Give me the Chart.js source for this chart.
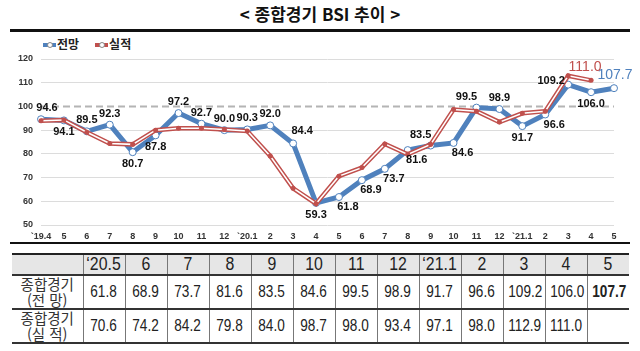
<!DOCTYPE html>
<html lang="ko">
<head>
<meta charset="utf-8">
<title>종합경기 BSI 추이</title>
<script src="https://cdn.jsdelivr.net/npm/chart.js@4.4.1/dist/chart.umd.min.js"></script>
<style>
  html, body { margin:0; padding:0; background:#fff; }
  #page { position:relative; width:640px; height:351px; overflow:hidden; font-family:"Noto Sans CJK KR", sans-serif; }
  #titre { position:absolute; left:0; top:3px; width:640px; text-align:center; font-weight:bold; font-size:17px; line-height:22px; color:#111; }
  #trait-haut { position:absolute; left:10px; top:29px; width:620px; height:3px; background:#111; }
  #legende { position:absolute; left:43px; top:35px; font-weight:bold; font-size:12px; line-height:18px; color:#222; white-space:nowrap; }
  #legende .item { display:inline-block; margin-right:16px; }
  #legende .icone { display:inline-block; position:relative; width:13px; height:4px; vertical-align:middle; margin-right:1px; top:-1px; }
  #legende .icone::after { content:''; position:absolute; left:4px; top:-1px; width:4px; height:4px; border-radius:50%; background:#fff; border:1px solid #888; }
  #zone { position:absolute; left:0; top:32px; width:640px; height:210px; }
  #trait-bas { position:absolute; left:10px; top:242px; width:620px; height:2px; background:#111; }
  #tableau { position:absolute; left:12px; top:253px; border-collapse:collapse; table-layout:fixed; width:617px; }
  #tableau td { border-left:1px solid #777; padding:0; text-align:center; white-space:nowrap; overflow:hidden;
                font-family:"Liberation Sans",sans-serif; font-size:17px; color:#222; }
  #tableau td span { display:inline-block; transform:scaleX(0.8); }
  #tableau td:first-child { border-left:none; }
  #tableau tr { border-bottom:2px solid #333; }
  #tableau tr.entete { border-top:2px solid #222; background:#e6e6e6; height:21px; }
  #tableau tr.entete td { font-size:18px; line-height:19px; }
  #tableau tr.entete td span { transform:scaleX(0.88); }
  #tableau tr.ligne { height:34px; }
  #tableau td.libelle { font-family:"Noto Sans CJK KR",sans-serif; font-size:14.5px; line-height:16px; color:#333; overflow:visible; }
  #tableau td.dernier { font-weight:bold; }
</style>
</head>
<body>
<div id="page">
  <div id="titre">&lt; 종합경기 BSI 추이 &gt;</div>
  <div id="trait-haut"></div>
  <div id="legende"></div>
  <div id="zone"><canvas id="graphique-bsi" width="640" height="210"></canvas></div>
  <div id="trait-bas"></div>
  <table id="tableau"></table>
</div>
<script>
/** Les mois de l'axe des abscisses ('19.4 -> '21.5) */
const mois = ['`19.4','5','6','7','8','9','10','11','12','`20.1','2','3','4','5','6','7','8','9','10','11','12','`21.1','2','3','4','5'];

/** Noms des séries */
const nomsSeries = ['전망', '실적'];

/** 종합경기 전망 */
const perspectives = [94.6, 94.1, 89.5, 92.3, 80.7, 87.8, 97.2, 92.7, 90.0, 90.3, 92.0, 84.4, 59.3,
  61.8, 68.9, 73.7, 81.6, 83.5, 84.6, 99.5, 98.9, 91.7, 96.6, 109.2, 106.0, 107.7];

/** 종합경기 실적 (pas encore de valeur pour '21.5) */
const realisations = [94.0, 94.3, 89.1, 84.4, 84.0, 90.0, 90.8, 90.8, 90.3, 89.6, 79.1, 65.5, 59.0,
  70.6, 74.2, 84.2, 79.8, 84.0, 98.7, 98.0, 93.4, 97.1, 98.0, 112.9, 111.0];

/** Graduations de l'axe des ordonnées */
const graduations = [50, 60, 70, 80, 90, 100, 110, 120];

/** En-têtes du tableau ('20.5 -> '21.5) */
const moisTableau = ['‘20.5','6','7','8','9','10','11','12','‘21.1','2','3','4','5'];
const debutTableau = 13;

/** Place des étiquettes de la série 전망 */
const placement = ['nr','s','n','n','s','s','n','n','n','n','n','ne','s',
  'se','se','se','se','nw','se','nw','n','s','se','w','s','n'];

const bleu = '#4f81bd';
const rouge = '#c0504d';

/** On construit la légende */
const legende = document.getElementById('legende');
[bleu, rouge].forEach((couleur, i) => {
  legende.insertAdjacentHTML('beforeend',
    `<span class="item"><span class="icone" style="background:${couleur}"></span>${nomsSeries[i]}</span>`);
});

/** On construit le tableau */
const fmt = v => (v === undefined ? '' : v.toFixed(1));
let str = '<colgroup><col style="width:71px">' + moisTableau.map(() => '<col style="width:42px">').join('') + '</colgroup>';
str += '<tr class="entete"><td></td>' + moisTableau.map(m => `<td><span>${m}</span></td>`).join('') + '</tr>';
str += '<tr class="ligne"><td class="libelle">종합경기<br>(전 망)</td>' +
  moisTableau.map((m, i) => {
    const idx = debutTableau + i;
    const cls = idx === perspectives.length - 1 ? ' class="dernier"' : '';
    return `<td${cls}><span>${fmt(perspectives[idx])}</span></td>`;
  }).join('') + '</tr>';
str += '<tr class="ligne"><td class="libelle">종합경기<br>(실 적)</td>' +
  moisTableau.map((m, i) => `<td><span>${fmt(realisations[debutTableau + i])}</span></td>`).join('') + '</tr>';
document.getElementById('tableau').innerHTML = str;

/** Décalage des étiquettes selon leur place */
const decalages = {
  n: [0, -11], nr: [6, -11], s: [0, 12], ne: [9, -12], se: [9, 10], nw: [-10, -11], w: [-17, -4]
};

/** Plugin : ligne pointillée à 100 */
const ligneCent = {
  id: 'ligneCent',
  beforeDatasetsDraw(chart) {
    const { ctx, chartArea, scales } = chart;
    const y = scales.y.getPixelForValue(100);
    ctx.save();
    ctx.strokeStyle = '#b4b4b4';
    ctx.lineWidth = 2;
    ctx.setLineDash([7, 4]);
    ctx.beginPath();
    ctx.moveTo(chartArea.left, y);
    ctx.lineTo(chartArea.right, y);
    ctx.stroke();
    ctx.restore();
  }
};

/** Plugin : étiquettes des valeurs */
const etiquettes = {
  id: 'etiquettes',
  afterDatasetsDraw(chart) {
    const ctx = chart.ctx;
    ctx.save();
    ctx.textAlign = 'center';
    ctx.textBaseline = 'middle';
    const pointsBleus = chart.getDatasetMeta(0).data;
    pointsBleus.forEach((p, i) => {
      const [dx, dy] = decalages[placement[i]];
      if (i === pointsBleus.length - 1) {
        ctx.font = '14px "Liberation Sans", sans-serif';
        ctx.fillStyle = bleu;
        ctx.fillText(perspectives[i].toFixed(1), p.x + 1, p.y - 13);
      } else {
        ctx.font = 'bold 11px "Liberation Sans", sans-serif';
        ctx.fillStyle = '#111';
        ctx.fillText(perspectives[i].toFixed(1), p.x + dx, p.y + dy);
      }
    });
    /** Seule la dernière valeur du 실적 est affichée */
    const pointsRouges = chart.getDatasetMeta(3).data;
    const last = pointsRouges.length - 1;
    ctx.font = '14px "Liberation Sans", sans-serif';
    ctx.fillStyle = rouge;
    ctx.fillText(realisations[last].toFixed(1), pointsRouges[last].x - 6, pointsRouges[last].y - 13);
    ctx.restore();
  }
};

const data = {
  labels: mois,
  datasets: [
    { label: nomsSeries[0], data: perspectives, borderColor: bleu, borderWidth: 5,
      pointRadius: 3.5, pointBackgroundColor: '#fff', pointBorderColor: bleu, pointBorderWidth: 1,
      tension: 0, order: 4 },
    { label: nomsSeries[1], data: realisations, borderColor: rouge, borderWidth: 4.5,
      pointRadius: 0, tension: 0, order: 3 },
    { label: 'inner', data: realisations, borderColor: '#fff', borderWidth: 1.5,
      pointRadius: 0, tension: 0, order: 2 },
    { label: 'points', data: realisations, showLine: false, pointRadius: 2.5,
      pointBackgroundColor: rouge, pointBorderColor: rouge, pointBorderWidth: 0, order: 1 }
  ]
};

const options = {
  responsive: false,
  animation: false,
  layout: { padding: { top: 27, right: 26, left: 0, bottom: 0 } },
  plugins: { legend: { display: false }, title: { display: false }, tooltip: { enabled: false } },
  scales: {
    x: {
      offset: false,
      grid: { display: false, drawTicks: false },
      border: { display: false },
      afterFit: s => { s.height = 17; },
      ticks: { autoSkip: false, maxRotation: 0, padding: 6, color: '#333',
        font: { family: '"Liberation Sans", sans-serif', size: 9, weight: 'bold' } }
    },
    y: {
      min: 50, max: 120,
      afterFit: s => { s.width = 41; },
      afterBuildTicks: s => { s.ticks = graduations.map(v => ({ value: v })); },
      grid: { drawTicks: false, color: c => (c.tick && c.tick.value === 100 ? 'rgba(0,0,0,0)' : '#dcdcdc') },
      border: { display: false },
      ticks: { padding: 8, color: '#333',
        font: { family: '"Liberation Sans", sans-serif', size: 9, weight: 'bold' } }
    }
  }
};

const ctx = document.getElementById('graphique-bsi').getContext('2d');
new Chart(ctx, { type: 'line', data, options, plugins: [ligneCent, etiquettes] });
</script>
</body>
</html>
